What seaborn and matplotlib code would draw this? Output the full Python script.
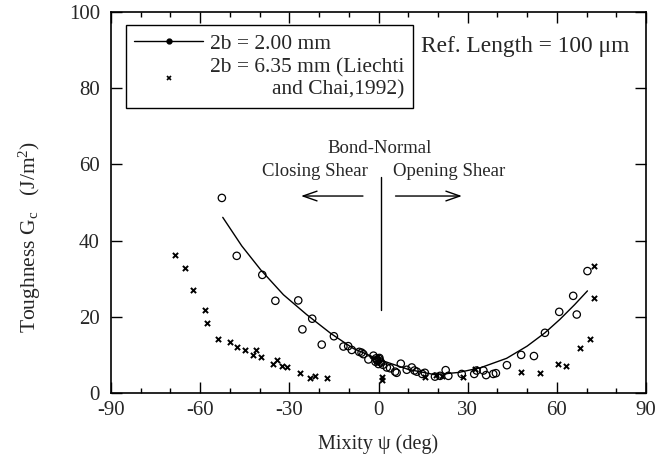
import numpy as np
import pandas as pd
import matplotlib
matplotlib.use("Agg")
import matplotlib.pyplot as plt
from matplotlib.lines import Line2D
from matplotlib.ticker import MultipleLocator
import seaborn as sns

# open circles: 2b = 2.00 mm
circ_x = [-52.7, -47.7, -39.1, -34.7, -27.0, -22.3, -25.6, -15.0, -19.1, -10.2,
          -11.8, -9.0, -6.5, -5.7, -5.1, -3.4, -1.7, -1.0, -0.6, 0.0,
          0.3, 0.8, 1.5, 2.8, 3.9, 5.6, 6.1, 7.5, 9.5, 11.2,
          12.1, 12.9, 14.7, 15.6, 19.0, 20.7, 22.6, 23.5, 28.0, 32.2,
          33.0, 35.3, 36.2, 38.6, 39.5, 43.2, 48.0, 52.3, 56.0, 60.8,
          65.5, 66.7, 70.3, -0.3, 0.2, -0.8, 0.6]
circ_y = [51.2, 36.0, 31.0, 24.2, 24.3, 19.5, 16.7, 14.9, 12.7, 12.3,
          12.2, 11.3, 10.8, 10.6, 10.2, 8.8, 9.8, 8.2, 8.7, 7.6,
          9.2, 8.0, 7.4, 6.7, 6.5, 5.6, 5.3, 7.7, 6.1, 6.7,
          5.9, 5.6, 5.0, 5.3, 4.3, 4.5, 6.0, 4.5, 5.0, 5.0,
          5.9, 5.9, 4.7, 5.0, 5.2, 7.3, 10.0, 9.7, 15.8, 21.3,
          25.5, 20.6, 32.0, 8.4, 8.9, 9.1, 8.3]

# crosses: 2b = 6.35 mm (Liechti and Chai, 1992)
cross_x = [-68.4, -65.1, -62.4, -58.4, -57.6, -53.9, -50.0, -47.5, -44.8, -42.3,
           -41.2, -39.4, -35.5, -34.1, -32.5, -30.9, -26.4, -23.0, -21.4, -17.4,
           1.2, 1.2, 15.5, 19.5, 21.3, 28.5, 32.5, 48.0, 54.3, 60.3,
           63.0, 67.8, 71.2, 72.6, 72.6]
cross_y = [36.3, 32.9, 27.0, 21.8, 18.5, 14.3, 13.5, 12.2, 11.2, 10.1,
           11.2, 9.5, 7.7, 8.7, 7.2, 6.9, 5.3, 3.9, 4.5, 3.9,
           3.3, 4.3, 4.3, 4.6, 4.5, 4.3, 6.2, 5.6, 5.2, 7.6,
           7.2, 11.7, 14.2, 25.0, 33.4]

# fitted curve for 2b = 2.00 mm
fit_x = [-52.4, -46.0, -39.6, -32.0, -24.2, -16.0, -8.5, 0.5, 10.0, 19.0,
         27.0, 34.2, 43.1, 50.0, 56.0, 61.0, 66.0, 70.3]
fit_y = [46.1, 38.6, 32.3, 25.8, 20.6, 15.6, 11.7, 8.7, 6.2, 4.8,
         5.4, 6.6, 9.1, 12.3, 15.8, 19.3, 23.2, 26.8]

x_ticks = [-90, -60, -30, 0, 30, 60, 90]
y_ticks = [0, 20, 40, 60, 80, 100]
label_a = "2b = 2.00 mm"
label_b = "2b = 6.35 mm (Liechti\nand Chai,1992)"

sns.set_style("ticks")
plt.rcParams['font.family'] = ['Liberation Serif', 'DejaVu Serif']
plt.rcParams['mathtext.fontset'] = 'custom'
plt.rcParams['mathtext.rm'] = 'Liberation Serif'
plt.rcParams['mathtext.it'] = 'Liberation Serif:italic'

fig = plt.figure(figsize=(6.58, 4.65), dpi=100)
ax = fig.add_axes([111/658, 1 - 393/465, 535/658, 381/465])

circ_df = pd.DataFrame({'psi': circ_x, 'G': circ_y})
cross_df = pd.DataFrame({'psi': cross_x, 'G': cross_y})
fit_df = pd.DataFrame({'psi': fit_x, 'G': fit_y})

sns.lineplot(data=fit_df, x='psi', y='G', sort=False, estimator=None,
             color='black', linewidth=1.0, ax=ax, zorder=2)
sns.scatterplot(data=circ_df, x='psi', y='G', marker='o', s=28,
                facecolors='none', edgecolor='black', linewidth=0.9,
                ax=ax, zorder=3)
ax.collections[-1].set_facecolor('none')
sns.scatterplot(data=cross_df, x='psi', y='G', marker='x', s=14,
                color='black', edgecolor='black', linewidth=1.4, ax=ax, zorder=3)

ax.set_xlim(-90, 90)
ax.set_ylim(0, 100)
ax.set_xticks(x_ticks)
ax.set_xticklabels([str(v) for v in x_ticks])
ax.set_yticks(y_ticks)
ax.set_yticklabels([str(v) for v in y_ticks])
ax.xaxis.set_minor_locator(MultipleLocator(10))
ax.tick_params(which='both', direction='in', top=True, right=True,
               labelsize=15, color='black', width=1.0)
ax.tick_params(which='major', length=8)
ax.tick_params(which='minor', length=3.5)
ax.tick_params(axis='x', pad=6)
ax.tick_params(axis='y', pad=8)
for s in ax.spines.values():
    s.set_linewidth(1.2)
    s.set_color('black')

ax.set_xlabel("Mixity \u03c8 (deg)", fontsize=14.5, labelpad=10)
ax.set_ylabel("Toughness G$_\\mathrm{c}$   (J/m$^\\mathrm{2}$)", fontsize=15.5)
ax.yaxis.set_label_coords(-0.128, 0.41)

# annotations
ax.plot([0.85, 0.85], [21.8, 56.8], color='black', linewidth=1.0)
ax.text(0.5, 64.2, "Bond-Normal", ha='center', va='center', fontsize=13.5)
ax.text(-3.5, 58.1, "Closing Shear", ha='right', va='center', fontsize=13.5)
ax.text(4.8, 58.1, "Opening Shear", ha='left', va='center', fontsize=13.5)
arrow_kw = dict(arrowstyle='->,head_length=1.0,head_width=0.35', color='black', lw=1.0)
ax.annotate("", xy=(-27, 51.7), xytext=(-4.3, 51.7), arrowprops=arrow_kw)
ax.annotate("", xy=(29, 51.7), xytext=(4.8, 51.7), arrowprops=arrow_kw)
ax.text(14.3, 90.9, "Ref. Length = 100 \u03bcm", ha='left', va='center', fontsize=16.8)

handles = [Line2D([], [], color='black', linewidth=1.0, marker='o', markersize=3.5,
                  markerfacecolor='black'),
           Line2D([], [], color='black', linestyle='none', marker='x', markersize=3.5,
                  markeredgewidth=1.2)]
leg = ax.legend(handles, [label_a, label_b], loc='upper left',
                bbox_to_anchor=(0.0275, 0.966), borderaxespad=0, fontsize=15.5,
                frameon=True, fancybox=False, edgecolor='black', framealpha=1,
                handlelength=3.2, handletextpad=0.3, borderpad=0.4,
                labelspacing=0.2)
leg.get_frame().set_linewidth(1.0)
for t in leg.get_texts():
    t.set_multialignment('right')

fig.savefig("out.png", dpi=100)
